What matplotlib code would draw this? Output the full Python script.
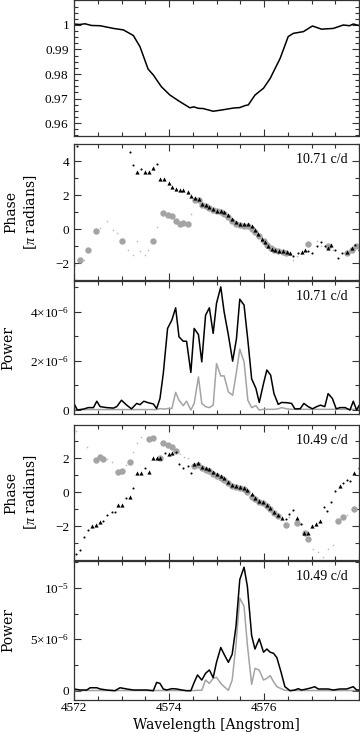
import numpy as np
import matplotlib
matplotlib.use('Agg')
import matplotlib.pyplot as plt
from matplotlib.ticker import MultipleLocator, FixedLocator, FixedFormatter, FuncFormatter

plt.rcParams['font.family'] = ['Liberation Serif']
plt.rcParams['mathtext.fontset'] = 'custom'
plt.rcParams['mathtext.rm'] = 'Liberation Serif'
plt.rcParams['mathtext.it'] = 'Liberation Serif:italic'
plt.rcParams['mathtext.bf'] = 'Liberation Serif:bold'

# ---------------- data ----------------
# mean line profile
prof_wave = [4572.00, 4572.12, 4572.23, 4572.37, 4572.55, 4572.83, 4573.04, 4573.25, 4573.39,
             4573.56, 4573.67, 4573.84, 4574.02, 4574.23, 4574.44, 4574.52, 4574.62, 4574.72,
             4574.93, 4575.14, 4575.35, 4575.49, 4575.60, 4575.67, 4575.81, 4575.99, 4576.13,
             4576.34, 4576.51, 4576.62, 4576.83, 4577.02, 4577.21, 4577.46, 4577.67,
             4577.80, 4577.88, 4578.00]
prof_flux = [1.0004, 1.0002, 1.0005, 0.9998, 0.9997, 0.9986, 0.9980, 0.9957, 0.9911,
             0.9820, 0.9796, 0.9748, 0.9714, 0.9687, 0.9662, 0.9666, 0.9660, 0.9659,
             0.9648, 0.9654, 0.9661, 0.9663, 0.9671, 0.9674, 0.9714, 0.9742, 0.9782,
             0.9864, 0.9953, 0.9966, 0.9973, 0.9996, 0.9983, 0.9986, 1.0000,
             0.9997, 1.0004, 0.9998]

# phase, 10.71 c/d
ph1_tri_w = [4573.33, 4573.49, 4573.58, 4573.66, 4573.81, 4573.89, 4573.99, 4574.06,
             4574.14, 4574.23, 4574.30, 4574.39, 4574.46, 4574.55, 4574.63, 4574.69,
             4574.77, 4574.85, 4574.93, 4575.00, 4575.09, 4575.16, 4575.25, 4575.33,
             4575.42, 4575.49, 4575.58, 4575.67, 4575.74, 4575.81, 4575.88, 4575.95,
             4576.02, 4576.09, 4576.16, 4576.23, 4576.32, 4576.41, 4576.48, 4576.55,
             4576.79, 4576.86, 4577.35, 4577.42, 4577.74, 4577.85]
ph1_tri_p = [3.35, 3.35, 3.35, 3.59, 2.96, 2.96, 2.70, 2.50,
             2.37, 2.27, 2.27, 2.17, 1.97, 1.82, 1.78, 1.49,
             1.39, 1.29, 1.19, 1.08, 1.04, 0.98, 0.84, 0.61,
             0.41, 0.29, 0.29, 0.29, 0.16, -0.04, -0.29, -0.57,
             -0.77, -1.02, -1.16, -1.22, -1.28, -1.32, -1.36, -1.41,
             -1.36, -1.22, -1.12, -0.92, -1.36, -1.12]
ph1_dot_w = [4572.06, 4573.18, 4573.25, 4573.42, 4573.74, 4576.62, 4576.72, 4576.93,
             4577.02, 4577.11, 4577.19, 4577.28, 4577.49, 4577.56, 4577.64, 4577.92, 4578.00]
ph1_dot_p = [4.90, 4.53, 3.74, 3.53, 3.82, -1.61, -1.41, -1.32,
             -1.41, -1.02, -0.77, -1.02, -1.22, -1.71, -1.41, -0.92, -1.22]
ph1_circ_w = [4572.13, 4572.30, 4572.46, 4573.02, 4573.66, 4573.88, 4573.97, 4574.06,
              4574.14, 4574.23, 4574.30, 4574.39, 4574.55, 4574.63, 4574.69, 4574.77,
              4574.85, 4574.93, 4575.00, 4575.09, 4575.16, 4575.25, 4575.33, 4575.42,
              4575.49, 4575.58, 4575.67, 4575.75, 4575.82, 4575.90, 4575.99, 4576.06,
              4576.14, 4576.21, 4576.30, 4576.39, 4576.46, 4576.93, 4577.35, 4577.74,
              4577.85, 4577.94]
ph1_circ_p = [-1.81, -1.22, -0.14, -0.73, -0.73, 0.93, 0.84, 0.74,
              0.45, 0.32, 0.35, 0.29, 1.72, 1.72, 1.43, 1.33,
              1.23, 1.14, 1.04, 1.00, 0.90, 0.69, 0.49, 0.29,
              0.21, 0.19, 0.15, 0.02, -0.18, -0.43, -0.69, -0.92,
              -1.12, -1.22, -1.32, -1.36, -1.41, -0.88, -0.98, -1.41,
              -1.22, -1.02]
ph1_gdot_w = [4572.02, 4572.20, 4572.55, 4572.69, 4572.83, 4572.90, 4573.14, 4573.25,
              4573.32, 4573.39, 4573.49, 4573.56, 4573.74, 4574.46, 4576.55, 4576.62,
              4576.70, 4576.79, 4577.11, 4577.21, 4577.46]
ph1_gdot_p = [-2.10, -1.81, 0.04, 0.45, -0.04, -0.24, -1.22, -1.51,
              -0.73, -1.32, -1.55, -1.22, 0.10, 0.90, -1.55, -1.81,
              -1.61, -1.41, -0.73, -1.02, -1.22]

# power, 10.71 c/d
pw1_wave = [4572.00, 4572.07, 4572.20, 4572.30, 4572.41, 4572.48, 4572.55, 4572.69,
            4572.83, 4572.90, 4573.00, 4573.11, 4573.21, 4573.32, 4573.39, 4573.47,
            4573.56, 4573.67, 4573.74, 4573.81, 4573.88, 4573.97, 4574.06, 4574.14,
            4574.21, 4574.30, 4574.37, 4574.46, 4574.53, 4574.62, 4574.69, 4574.77,
            4574.85, 4574.93, 4575.00, 4575.09, 4575.16, 4575.25, 4575.34, 4575.42,
            4575.49, 4575.58, 4575.66, 4575.74, 4575.83, 4575.90, 4575.99, 4576.06,
            4576.14, 4576.21, 4576.30, 4576.37, 4576.48, 4576.58, 4576.65, 4576.76,
            4576.84, 4576.93, 4577.02, 4577.11, 4577.19, 4577.28, 4577.35, 4577.44,
            4577.52, 4577.60, 4577.71, 4577.81, 4577.88, 4577.95, 4578.00]
pw1_a = [0.27, 0.00, 0.04, 0.10, 0.10, 0.36, 0.14, 0.10,
         0.08, 0.14, 0.40, 0.20, 0.05, 0.27, 0.22, 0.36,
         0.30, 0.25, 0.06, 0.47, 1.49, 3.32, 3.66, 4.16,
         2.98, 2.80, 2.80, 1.53, 3.32, 3.07, 1.96, 3.86,
         4.16, 3.12, 4.34, 5.01, 4.00, 3.05, 1.99, 2.90,
         4.51, 4.27, 2.84, 1.27, 0.88, 0.31, 1.08, 1.63,
         1.42, 0.67, 0.23, 0.31, 0.30, 0.27, 0.05, 0.05,
         0.27, 0.14, 0.05, 0.14, 0.20, 0.14, 0.67, 0.47,
         0.05, 0.10, 0.10, 0.00, 0.36, 0.00, 0.18]
pw1_b = [0.02, 0.02, 0.02, 0.02, 0.02, 0.02, 0.02, 0.02,
         0.02, 0.02, 0.02, 0.02, 0.02, 0.02, 0.02, 0.02,
         0.02, 0.02, 0.02, 0.06, 0.04, 0.06, 0.06, 0.72,
         0.40, 0.18, 0.36, 0.00, 0.27, 1.35, 0.27, 0.14,
         0.10, 0.20, 1.89, 1.39, 1.39, 0.74, 0.60, 1.55,
         2.48, 1.96, 0.40, 0.10, 0.18, 0.00, 0.03, 0.03,
         0.03, 0.03, 0.05, 0.10, 0.05, 0.03, 0.03, 0.03,
         0.03, 0.03, 0.03, 0.03, 0.03, 0.03, 0.03, 0.03,
         0.03, 0.03, 0.03, 0.03, 0.03, 0.03, 0.03]

# phase, 10.49 c/d
ph2_tri_w = [4572.37, 4572.46, 4572.55, 4572.93, 4573.02, 4573.18, 4573.33, 4573.42,
             4573.58, 4573.66, 4573.74, 4573.82, 4573.99, 4574.07, 4574.53, 4574.62,
             4574.69, 4574.77, 4574.85, 4574.93, 4575.00, 4575.09, 4575.16, 4575.25,
             4575.33, 4575.41, 4575.49, 4575.58, 4575.65, 4575.74, 4575.81, 4575.90,
             4575.97, 4576.06, 4576.13, 4576.21, 4576.30, 4576.37, 4576.69, 4576.84,
             4576.93, 4577.00, 4577.09, 4577.18, 4577.59, 4577.89]
ph2_tri_p = [-1.98, -1.89, -1.73, -0.71, -0.75, -0.24, 1.12, 1.12,
             1.17, 2.04, 2.05, 2.00, 2.23, 2.29, 1.65, 1.71,
             1.51, 1.41, 1.35, 1.21, 1.08, 0.96, 0.82, 0.63,
             0.43, 0.39, 0.33, 0.27, 0.14, -0.12, -0.31, -0.51,
             -0.59, -0.75, -0.94, -1.14, -1.33, -1.53, -1.53, -2.41,
             -2.41, -1.98, -1.83, -1.69, 0.37, 1.12]
ph2_dot_w = [4572.04, 4572.13, 4572.21, 4572.30, 4572.62, 4572.70, 4572.79, 4572.86,
             4573.09, 4573.25, 4573.49, 4573.92, 4574.14, 4574.21, 4574.30, 4574.39,
             4574.46, 4576.46, 4576.53, 4576.62, 4576.77, 4577.26, 4577.33, 4577.42,
             4577.49, 4577.66, 4577.74, 4577.81, 4577.99]
ph2_dot_p = [-3.59, -3.40, -2.61, -2.22, -1.69, -1.33, -1.14, -1.14,
             -0.31, 0.24, 1.41, 2.29, 2.35, 1.65, 1.41, 1.57,
             1.12, -1.59, -1.29, -1.04, -1.83, -0.85, -1.08, -0.59,
             0.10, 0.53, 0.72, 0.67, 1.41]
ph2_circ_w = [4572.46, 4572.55, 4572.62, 4572.93, 4573.02, 4573.18, 4573.58, 4573.66,
              4573.81, 4573.88, 4573.97, 4574.06, 4574.14, 4574.53, 4574.62, 4574.69,
              4574.77, 4574.85, 4574.93, 4575.00, 4575.09, 4575.16, 4575.25, 4575.33,
              4575.41, 4575.49, 4575.58, 4575.65, 4575.74, 4575.81, 4575.90, 4575.97,
              4576.06, 4576.13, 4576.21, 4576.30, 4576.46, 4576.70, 4576.86, 4576.93,
              4577.56, 4577.66, 4577.89]
ph2_circ_p = [1.90, 2.10, 1.94, 1.20, 1.24, 1.80, 3.14, 3.22,
              2.04, 2.88, 2.78, 2.65, 2.43, 1.55, 1.61, 1.41,
              1.31, 1.24, 1.10, 0.98, 0.86, 0.72, 0.53, 0.37,
              0.29, 0.24, 0.18, 0.00, -0.25, -0.39, -0.55, -0.65,
              -0.79, -1.00, -1.18, -1.37, -1.94, -1.77, -2.41, -2.75,
              -1.69, -1.43, -0.98]
ph2_gdot_w = [4572.04, 4572.28, 4572.69, 4572.79, 4573.09, 4573.25, 4573.33, 4573.42,
              4574.23, 4574.32, 4574.39, 4576.53, 4576.62, 4576.79, 4577.04, 4577.14,
              4577.25, 4577.35, 4577.46, 4577.74, 4577.99]
ph2_gdot_p = [3.61, 2.68, 1.96, 1.80, 1.61, 2.35, 2.88, 3.27,
              2.23, 2.10, 2.00, -1.43, -1.04, -1.83, -3.30, -3.49,
              -3.78, -3.30, -3.10, -1.33, -0.75]

# power, 10.49 c/d
pw2_wave = [4572.00, 4572.13, 4572.27, 4572.34, 4572.48, 4572.55, 4572.69, 4572.86,
            4572.97, 4573.11, 4573.25, 4573.39, 4573.53, 4573.67, 4573.74, 4573.81,
            4573.88, 4573.95, 4574.06, 4574.16, 4574.27, 4574.37, 4574.46, 4574.53,
            4574.60, 4574.69, 4574.77, 4574.85, 4574.93, 4575.00, 4575.09, 4575.16,
            4575.25, 4575.33, 4575.41, 4575.49, 4575.58, 4575.65, 4575.74, 4575.81,
            4575.90, 4575.99, 4576.06, 4576.13, 4576.20, 4576.27, 4576.36, 4576.44,
            4576.55, 4576.65, 4576.72, 4576.79, 4576.90, 4577.00, 4577.07, 4577.14,
            4577.25, 4577.35, 4577.46, 4577.60, 4577.74, 4577.88, 4577.95, 4578.00]
pw2_a = [0.17, 0.07, 0.07, 0.29, 0.29, 0.17, 0.07, 0.00,
         0.29, 0.17, 0.07, 0.07, 0.07, 0.00, 0.81, 0.71,
         0.17, 0.07, 0.20, 0.17, 0.07, 0.00, 0.00, 0.81,
         1.53, 1.04, 1.69, 2.02, 1.27, 2.76, 4.20, 3.54,
         2.76, 3.54, 6.24, 10.79, 12.00, 10.14, 5.36, 4.05,
         5.04, 3.74, 4.05, 3.74, 3.64, 3.22, 1.79, 0.39,
         0.00, 0.07, 0.20, 0.07, 0.17, 0.29, 0.39, 0.17,
         0.17, 0.17, 0.07, 0.17, 0.17, 0.39, 0.07, 0.07]
pw2_b = [0.02, 0.02, 0.02, 0.02, 0.02, 0.02, 0.02, 0.02,
         0.02, 0.02, 0.02, 0.02, 0.02, 0.02, 0.02, 0.02,
         0.02, 0.02, 0.02, 0.02, 0.02, 0.02, 0.02, 0.02,
         0.04, 0.04, 1.04, 0.71, 1.20, 1.30, 0.71, 0.40,
         0.04, 1.04, 4.46, 9.00, 8.20, 4.46, 0.62, 2.17,
         2.00, 1.04, 1.20, 1.47, 0.88, 0.40, 0.20, 0.04,
         0.02, 0.02, 0.02, 0.02, 0.02, 0.02, 0.02, 0.02,
         0.02, 0.02, 0.02, 0.02, 0.02, 0.02, 0.02, 0.02]

grey = '#a4a4a4'
lgrey = '#bdbdbd'
label_font = 'DejaVu Serif'


def xfmt(v, pos):
    return '' if v > 4577.5 else '%d' % v


def style_axis(ax, show_x=False):
    ax.set_xlim(4572, 4578)
    ax.xaxis.set_major_locator(MultipleLocator(2))
    ax.xaxis.set_minor_locator(MultipleLocator(0.5))
    ax.xaxis.set_major_formatter(FuncFormatter(xfmt))
    ax.tick_params(which='both', direction='in', top=True, right=True,
                   labelsize=9.5, width=0.8, color='#333333')
    ax.tick_params(which='major', length=5)
    ax.tick_params(which='minor', length=3)
    ax.tick_params(axis='y', pad=3.5)
    ax.tick_params(axis='x', pad=1.5)
    for s in ax.spines.values():
        s.set_color('#333333')
        s.set_linewidth(0.9)
    if not show_x:
        ax.tick_params(labelbottom=False)


def phase_scatter(ax, tw, tp, dw, dp, cw, cp, gw, gp):
    ax.plot(gw, gp, 'o', color=lgrey, ms=1.2, mew=0, ls='none')
    ax.plot(cw, cp, 'o', color=grey, ms=4.6, mew=0, ls='none')
    ax.plot(dw, dp, 'o', color='black', ms=1.5, mew=0, ls='none')
    ax.plot(tw, tp, '^', color='black', ms=3.0, mew=0, ls='none')


def phase_label(ax):
    ax.set_ylabel('Phase\n[$\\pi$ radians]', fontsize=10, family=label_font,
                  linespacing=1.35)
    ax.yaxis.set_label_coords(-0.122, 0.5)


def power_label(ax):
    ax.set_ylabel('Power', fontsize=10, family=label_font)
    ax.yaxis.set_label_coords(-0.205, 0.5)


def freq_text(ax, txt):
    ax.text(0.961, 0.885, txt, transform=ax.transAxes, ha='right', va='center', fontsize=10)


fig = plt.figure(figsize=(3.6, 7.33), dpi=100)
L, W = 74 / 360, 285 / 360
H = 733.0
ax1 = fig.add_axes([L, (H - 136) / H, W, 136 / H])
ax2 = fig.add_axes([L, (H - 280) / H, W, 136 / H])
ax3 = fig.add_axes([L, (H - 414) / H, W, 133 / H])
ax4 = fig.add_axes([L, (H - 560) / H, W, 135 / H])
ax5 = fig.add_axes([L, (H - 700) / H, W, 139 / H])

sp = r'\ \ '

# panel 1: profile
ax1.plot(prof_wave, prof_flux, color='black', lw=1.1)
ax1.set_ylim(0.9547, 1.0102)
ax1.yaxis.set_major_locator(FixedLocator([0.96, 0.97, 0.98, 0.99, 1.0]))
ax1.yaxis.set_major_formatter(FixedFormatter(['$0.96' + sp + '$', '$0.97' + sp + '$',
                                              '$0.98' + sp + '$', '$0.99' + sp + '$', '1']))
ax1.yaxis.set_minor_locator(MultipleLocator(0.0025))
style_axis(ax1)

# panel 2: phase 10.71
phase_scatter(ax2, ph1_tri_w, ph1_tri_p, ph1_dot_w, ph1_dot_p,
              ph1_circ_w, ph1_circ_p, ph1_gdot_w, ph1_gdot_p)
ax2.set_ylim(-3, 5)
ax2.yaxis.set_major_locator(MultipleLocator(2))
ax2.yaxis.set_minor_locator(MultipleLocator(1))
phase_label(ax2)
freq_text(ax2, '10.71 c/d')
style_axis(ax2)

# panel 3: power 10.71
ax3.plot(pw1_wave, np.array(pw1_b) * 1e-6, color=grey, lw=1.1)
ax3.plot(pw1_wave, np.array(pw1_a) * 1e-6, color='black', lw=1.1)
ax3.set_ylim(-0.16e-6, 5.25e-6)
ax3.yaxis.set_major_locator(FixedLocator([0, 2e-6, 4e-6]))
ax3.yaxis.set_major_formatter(FixedFormatter(['0', r'$2{\times}10^{-6}' + sp + '$',
                                              r'$4{\times}10^{-6}' + sp + '$']))
ax3.yaxis.set_minor_locator(MultipleLocator(1e-6))
power_label(ax3)
freq_text(ax3, '10.71 c/d')
style_axis(ax3)

# panel 4: phase 10.49
phase_scatter(ax4, ph2_tri_w, ph2_tri_p, ph2_dot_w, ph2_dot_p,
              ph2_circ_w, ph2_circ_p, ph2_gdot_w, ph2_gdot_p)
ax4.set_ylim(-3.97, 3.96)
ax4.yaxis.set_major_locator(MultipleLocator(2))
ax4.yaxis.set_minor_locator(MultipleLocator(1))
phase_label(ax4)
freq_text(ax4, '10.49 c/d')
style_axis(ax4)

# panel 5: power 10.49
ax5.plot(pw2_wave, np.array(pw2_b) * 1e-6, color=grey, lw=1.1)
ax5.plot(pw2_wave, np.array(pw2_a) * 1e-6, color='black', lw=1.1)
ax5.set_ylim(-0.9e-6, 1.26e-5)
ax5.yaxis.set_major_locator(FixedLocator([0, 5e-6, 1e-5]))
ax5.yaxis.set_major_formatter(FixedFormatter(['0', r'$5{\times}10^{-6}' + sp + '$',
                                              r'$10^{-5}' + sp + '$']))
ax5.yaxis.set_minor_locator(MultipleLocator(2.5e-6))
power_label(ax5)
freq_text(ax5, '10.49 c/d')
style_axis(ax5, show_x=True)
ax5.set_xlabel('Wavelength [Angstrom]', fontsize=10, family=label_font, labelpad=3)

fig.savefig('out.png', dpi=100)
